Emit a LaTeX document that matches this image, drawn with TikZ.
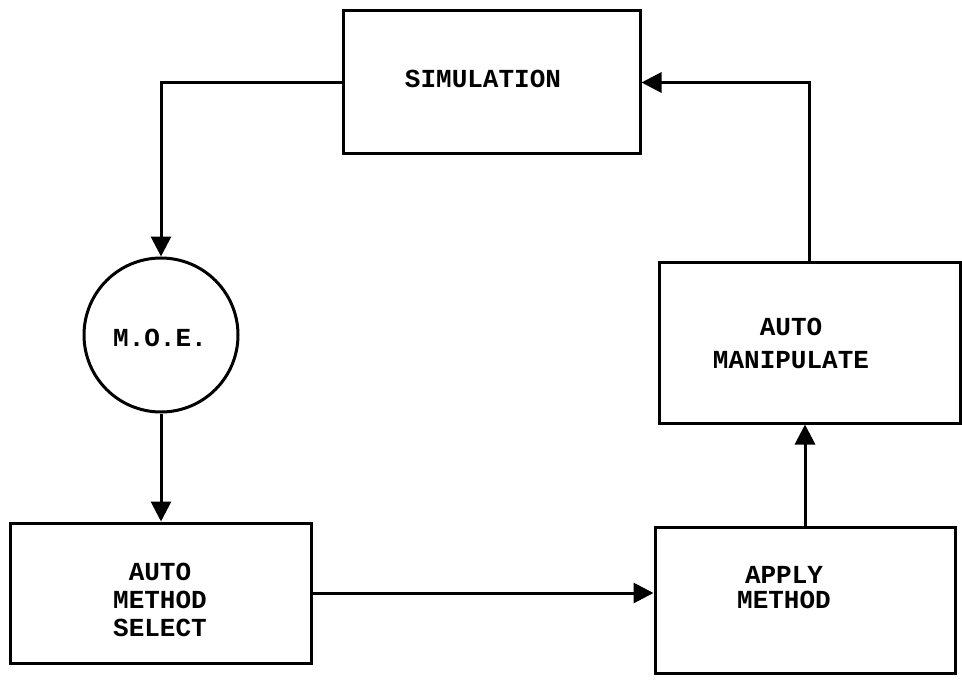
\documentclass[tikz,border=0pt]{standalone}
\usepackage{fontspec}
\setmonofont{Liberation Mono}
\usetikzlibrary{arrows.meta}
\begin{document}
\begin{tikzpicture}[x=1pt,y=-1pt,
  blk/.style={draw,line width=3pt,rectangle,inner sep=0pt},
  rnd/.style={draw,line width=3pt,circle,inner sep=0pt},
  lbl/.style={font=\ttfamily\bfseries\fontsize{26}{28}\selectfont,align=center,inner sep=0pt},
  arr/.style={line width=3pt,-{Triangle[length=20pt,width=20pt]}}]
\useasboundingbox (0,0) rectangle (962,682);
\node[blk,minimum width=297pt,minimum height=143pt] (sim) at (491.5,82.5) {};
\node[rnd,minimum size=154pt] (moe) at (161,335) {};
\node[blk,minimum width=301pt,minimum height=140pt] (ams) at (160.5,593) {};
\node[blk,minimum width=300pt,minimum height=146pt] (apm) at (805,600) {};
\node[blk,minimum width=301pt,minimum height=161pt] (aman) at (809.5,342.5) {};
\node[lbl] (simT) at (483,79) {SIMULATION};
\node[lbl] (moeT) at (160,338) {M.O.E.};
\node[lbl] (amsT) at (160,600) {AUTO\\METHOD\\SELECT};
\node[lbl,font=\ttfamily\bfseries\fontsize{26}{25}\selectfont] (apmT) at (784,588) {APPLY\\METHOD};
\node[lbl,font=\ttfamily\bfseries\fontsize{26}{33}\selectfont] (amanT) at (791,343) {AUTO\\MANIPULATE};
\draw[arr] (sim.west) -| (moe.north);
\draw[arr] (moe.south) -- (moe.south |- ams.north);
\draw[arr] (ams.east) -- (ams.east -| apm.west);
\draw[arr] (apm.north) -- (apm.north |- aman.south);
\draw[arr] (aman.north) |- (sim.east);
\end{tikzpicture}
\end{document}
